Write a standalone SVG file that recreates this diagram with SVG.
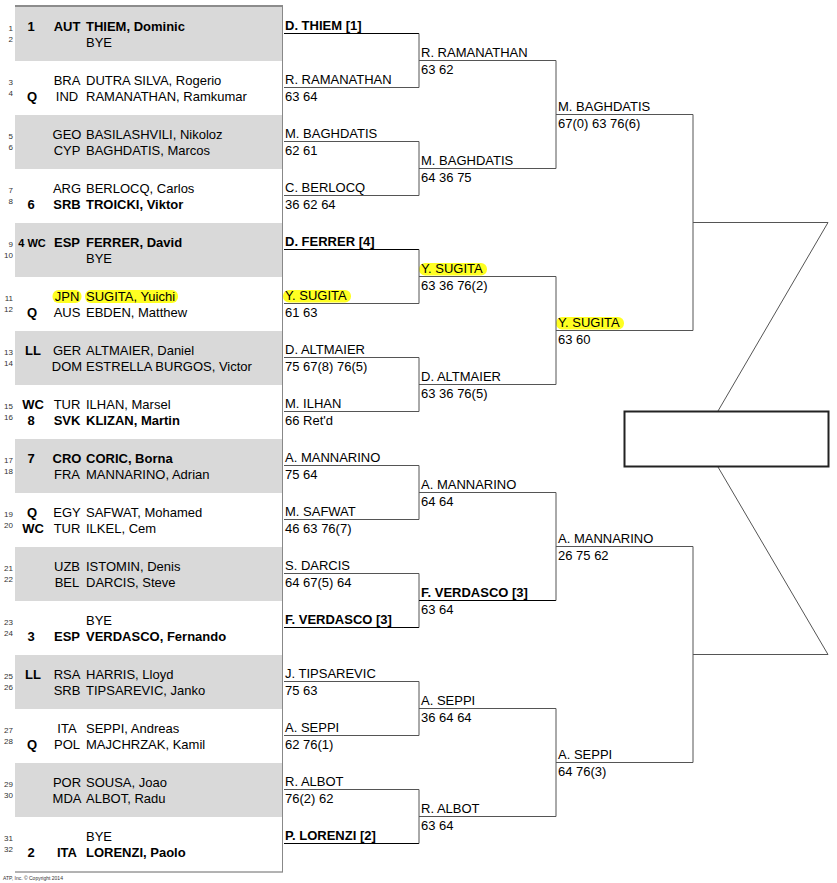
<svg xmlns="http://www.w3.org/2000/svg" width="837" height="883" viewBox="0 0 837 883">
<style>
text{font-family:"Liberation Sans",Arial,sans-serif;font-size:13px;fill:#000}
.b{font-weight:bold}
.n{font-size:8px;fill:#333;text-anchor:end}
.s{text-anchor:middle;font-weight:bold}
.c{text-anchor:middle}
.band{fill:#d9d9d9}
.ln{stroke:#555;stroke-width:1;fill:none}
.lb{stroke:#000;stroke-width:1;fill:none}
.hl{fill:#ffff22}
.cp{font-size:5px;fill:#333}
</style>
<rect width="837" height="883" fill="#fff"/>
<g id="draw-panel">
<rect class="band" x="15" y="7" width="267" height="54"/>
<rect class="band" x="15" y="115" width="267" height="54"/>
<rect class="band" x="15" y="223" width="267" height="54"/>
<rect class="band" x="15" y="331" width="267" height="54"/>
<rect class="band" x="15" y="439" width="267" height="54"/>
<rect class="band" x="15" y="547" width="267" height="54"/>
<rect class="band" x="15" y="655" width="267" height="54"/>
<rect class="band" x="15" y="763" width="267" height="54"/>
<line x1="15" y1="6" x2="283" y2="6" stroke="#666" stroke-width="1.5"/>
<line x1="15" y1="872" x2="283" y2="872" stroke="#666" stroke-width="1"/>
<line x1="282.5" y1="6" x2="282.5" y2="872" stroke="#888" stroke-width="1"/>
</g>
<g id="highlights">
<rect class="hl" x="52.5" y="290" width="29" height="13" rx="6"/>
<rect class="hl" x="85" y="290" width="93" height="13" rx="6"/>
<rect class="hl" x="283" y="290" width="68" height="12.5" rx="6"/>
<rect class="hl" x="419" y="263" width="68" height="12.5" rx="6"/>
<rect class="hl" x="556" y="317" width="68" height="12.5" rx="6"/>
</g>
<g id="entries">
<g id="p1"><text class="n" x="13" y="31">1</text><text class="n" x="13" y="41.5">2</text><text class="s" x="31" y="30.5">1</text><text class="c b" x="67" y="30.5">AUT</text><text class="b" x="86" y="30.5">THIEM, Dominic</text><text x="86" y="47">BYE</text></g>
<g id="p2"><text class="n" x="13" y="85">3</text><text class="n" x="13" y="95.5">4</text><text class="c" x="67" y="84.5">BRA</text><text x="86" y="84.5">DUTRA SILVA, Rogerio</text><text class="s" x="32" y="101">Q</text><text class="c" x="67" y="101">IND</text><text x="86" y="101">RAMANATHAN, Ramkumar</text></g>
<g id="p3"><text class="n" x="13" y="139">5</text><text class="n" x="13" y="149.5">6</text><text class="c" x="67" y="138.5">GEO</text><text x="86" y="138.5">BASILASHVILI, Nikoloz</text><text class="c" x="67" y="155">CYP</text><text x="86" y="155">BAGHDATIS, Marcos</text></g>
<g id="p4"><text class="n" x="13" y="193">7</text><text class="n" x="13" y="203.5">8</text><text class="c" x="67" y="192.5">ARG</text><text x="86" y="192.5">BERLOCQ, Carlos</text><text class="s" x="31" y="209">6</text><text class="c b" x="67" y="209">SRB</text><text class="b" x="86" y="209">TROICKI, Viktor</text></g>
<g id="p5"><text class="n" x="13" y="247">9</text><text class="n" x="13" y="257.5">10</text><text class="s" x="32" y="246.5" style="font-size:11px">4 WC</text><text class="c b" x="67" y="246.5">ESP</text><text class="b" x="86" y="246.5">FERRER, David</text><text x="86" y="263">BYE</text></g>
<g id="p6"><text class="n" x="13" y="301">11</text><text class="n" x="13" y="311.5">12</text><text class="c" x="67" y="300.5">JPN</text><text x="86" y="300.5">SUGITA, Yuichi</text><text class="s" x="32" y="317">Q</text><text class="c" x="67" y="317">AUS</text><text x="86" y="317">EBDEN, Matthew</text></g>
<g id="p7"><text class="n" x="13" y="355">13</text><text class="n" x="13" y="365.5">14</text><text class="s" x="33" y="354.5">LL</text><text class="c" x="67" y="354.5">GER</text><text x="86" y="354.5">ALTMAIER, Daniel</text><text class="c" x="67" y="371">DOM</text><text x="86" y="371">ESTRELLA BURGOS, Victor</text></g>
<g id="p8"><text class="n" x="13" y="409">15</text><text class="n" x="13" y="419.5">16</text><text class="s" x="33" y="408.5">WC</text><text class="c" x="67" y="408.5">TUR</text><text x="86" y="408.5">ILHAN, Marsel</text><text class="s" x="31" y="425">8</text><text class="c b" x="67" y="425">SVK</text><text class="b" x="86" y="425">KLIZAN, Martin</text></g>
<g id="p9"><text class="n" x="13" y="463">17</text><text class="n" x="13" y="473.5">18</text><text class="s" x="31" y="462.5">7</text><text class="c b" x="67" y="462.5">CRO</text><text class="b" x="86" y="462.5">CORIC, Borna</text><text class="c" x="67" y="479">FRA</text><text x="86" y="479">MANNARINO, Adrian</text></g>
<g id="p10"><text class="n" x="13" y="517">19</text><text class="n" x="13" y="527.5">20</text><text class="s" x="32" y="516.5">Q</text><text class="c" x="67" y="516.5">EGY</text><text x="86" y="516.5">SAFWAT, Mohamed</text><text class="s" x="33" y="533">WC</text><text class="c" x="67" y="533">TUR</text><text x="86" y="533">ILKEL, Cem</text></g>
<g id="p11"><text class="n" x="13" y="571">21</text><text class="n" x="13" y="581.5">22</text><text class="c" x="67" y="570.5">UZB</text><text x="86" y="570.5">ISTOMIN, Denis</text><text class="c" x="67" y="587">BEL</text><text x="86" y="587">DARCIS, Steve</text></g>
<g id="p12"><text class="n" x="13" y="625">23</text><text class="n" x="13" y="635.5">24</text><text x="86" y="624.5">BYE</text><text class="s" x="31" y="641">3</text><text class="c b" x="67" y="641">ESP</text><text class="b" x="86" y="641">VERDASCO, Fernando</text></g>
<g id="p13"><text class="n" x="13" y="679">25</text><text class="n" x="13" y="689.5">26</text><text class="s" x="33" y="678.5">LL</text><text class="c" x="67" y="678.5">RSA</text><text x="86" y="678.5">HARRIS, Lloyd</text><text class="c" x="67" y="695">SRB</text><text x="86" y="695">TIPSAREVIC, Janko</text></g>
<g id="p14"><text class="n" x="13" y="733">27</text><text class="n" x="13" y="743.5">28</text><text class="c" x="67" y="732.5">ITA</text><text x="86" y="732.5">SEPPI, Andreas</text><text class="s" x="32" y="749">Q</text><text class="c" x="67" y="749">POL</text><text x="86" y="749">MAJCHRZAK, Kamil</text></g>
<g id="p15"><text class="n" x="13" y="787">29</text><text class="n" x="13" y="797.5">30</text><text class="c" x="67" y="786.5">POR</text><text x="86" y="786.5">SOUSA, Joao</text><text class="c" x="67" y="803">MDA</text><text x="86" y="803">ALBOT, Radu</text></g>
<g id="p16"><text class="n" x="13" y="841">31</text><text class="n" x="13" y="851.5">32</text><text x="86" y="840.5">BYE</text><text class="s" x="31" y="857">2</text><text class="c b" x="67" y="857">ITA</text><text class="b" x="86" y="857">LORENZI, Paolo</text></g>
</g>
<g id="connectors">
<path class="lb" d="M284 33.5H419"/><path class="ln" d="M284 87.5H419M419 33.5V87.5"/>
<path class="ln" d="M284 141.5H419M284 195.5H419M419 141.5V195.5"/>
<path class="lb" d="M284 249.5H419"/><path class="ln" d="M284 303.5H419M419 249.5V303.5"/>
<path class="ln" d="M284 357.5H419M284 411.5H419M419 357.5V411.5"/>
<path class="ln" d="M284 465.5H419M284 519.5H419M419 465.5V519.5"/>
<path class="ln" d="M284 573.5H419"/><path class="lb" d="M284 627.5H419"/><path class="ln" d="M419 573.5V627.5"/>
<path class="ln" d="M284 681.5H419M284 735.5H419M419 681.5V735.5"/>
<path class="ln" d="M284 789.5H419"/><path class="lb" d="M284 843.5H419"/><path class="ln" d="M419 789.5V843.5"/>
<path class="ln" d="M419 60.5H556M419 168.5H556M556 60.5V168.5"/>
<path class="ln" d="M419 276.5H556M419 384.5H556M556 276.5V384.5"/>
<path class="ln" d="M419 492.5H556"/><path class="lb" d="M419 600.5H556"/><path class="ln" d="M556 492.5V600.5"/>
<path class="ln" d="M419 708.5H556M419 816.5H556M556 708.5V816.5"/>
<path class="ln" d="M556 114.5H693M556 330.5H693M693 114.5V330.5"/>
<path class="ln" d="M556 546.5H693M556 762.5H693M693 546.5V762.5"/>
<path class="ln" d="M693 222.5H828L718 411"/>
<path class="ln" d="M693 654.5H828L718 467"/>
</g>
<g id="winner-box">
<rect x="624.5" y="411.5" width="204" height="55" fill="#fff" stroke="#222" stroke-width="2"/>
</g>
<g id="results">
<text class="b" x="285" y="30">D. THIEM [1]</text>
<text x="285" y="84">R. RAMANATHAN</text><text x="285" y="101">63 64</text>
<text x="285" y="138">M. BAGHDATIS</text><text x="285" y="155">62 61</text>
<text x="285" y="192">C. BERLOCQ</text><text x="285" y="209">36 62 64</text>
<text class="b" x="285" y="246">D. FERRER [4]</text>
<text x="285" y="300">Y. SUGITA</text><text x="285" y="317">61 63</text>
<text x="285" y="354">D. ALTMAIER</text><text x="285" y="371">75 67(8) 76(5)</text>
<text x="285" y="408">M. ILHAN</text><text x="285" y="425">66 Ret'd</text>
<text x="285" y="462">A. MANNARINO</text><text x="285" y="479">75 64</text>
<text x="285" y="516">M. SAFWAT</text><text x="285" y="533">46 63 76(7)</text>
<text x="285" y="570">S. DARCIS</text><text x="285" y="587">64 67(5) 64</text>
<text class="b" x="285" y="624">F. VERDASCO [3]</text>
<text x="285" y="678">J. TIPSAREVIC</text><text x="285" y="695">75 63</text>
<text x="285" y="732">A. SEPPI</text><text x="285" y="749">62 76(1)</text>
<text x="285" y="786">R. ALBOT</text><text x="285" y="803">76(2) 62</text>
<text class="b" x="285" y="840">P. LORENZI [2]</text>
<text x="421" y="57">R. RAMANATHAN</text><text x="421" y="74">63 62</text>
<text x="421" y="165">M. BAGHDATIS</text><text x="421" y="182">64 36 75</text>
<text x="421" y="273">Y. SUGITA</text><text x="421" y="290">63 36 76(2)</text>
<text x="421" y="381">D. ALTMAIER</text><text x="421" y="398">63 36 76(5)</text>
<text x="421" y="489">A. MANNARINO</text><text x="421" y="506">64 64</text>
<text class="b" x="421" y="597">F. VERDASCO [3]</text><text x="421" y="614">63 64</text>
<text x="421" y="705">A. SEPPI</text><text x="421" y="722">36 64 64</text>
<text x="421" y="813">R. ALBOT</text><text x="421" y="830">63 64</text>
<text x="558" y="111">M. BAGHDATIS</text><text x="558" y="128">67(0) 63 76(6)</text>
<text x="558" y="327">Y. SUGITA</text><text x="558" y="344">63 60</text>
<text x="558" y="543">A. MANNARINO</text><text x="558" y="560">26 75 62</text>
<text x="558" y="759">A. SEPPI</text><text x="558" y="776">64 76(3)</text>
</g>
<text class="cp" x="3" y="880">ATP, Inc. © Copyright 2014</text>
</svg>
